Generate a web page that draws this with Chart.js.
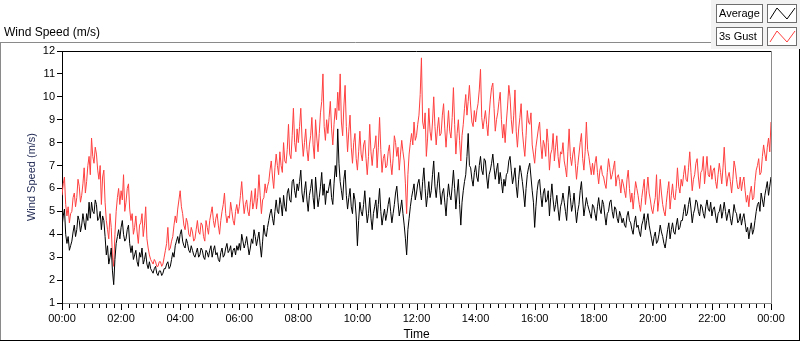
<!DOCTYPE html>
<html>
<head>
<meta charset="utf-8">
<script src="https://cdn.jsdelivr.net/npm/chart.js@4"></script>
<style>
  html, body { margin: 0; padding: 0; background: #fff; }
  #wrap { position: relative; width: 800px; height: 342px; }
</style>
</head>
<body>
<div id="wrap"><canvas id="chart" width="800" height="342"></canvas></div>
<script>
// one reading every 2.5 minutes, 00:00 .. 24:00 (24 readings per row = 1 hour)
const stepMinutes = 2.5;

const averageSpeed = [
  4.3, 4.8, 5.1, 4.0, 3.6, 3.9, 3.3, 3.5, 3.7, 4.1, 4.4, 3.9, 4.2, 4.8, 4.6, 4.1, 4.4, 4.9, 4.5, 4.2, 4.9, 4.6, 5.4, 4.7,
  5.4, 5.0, 4.9, 5.5, 5.3, 4.6, 4.7, 5.0, 4.2, 4.8, 4.6, 3.9, 3.1, 3.5, 2.7, 3.0, 3.4, 2.4, 1.8, 2.9, 3.6, 3.9, 4.2, 3.8,
  4.3, 4.6, 4.0, 3.7, 3.8, 4.2, 4.4, 3.6, 3.2, 3.5, 2.9, 3.1, 3.3, 2.8, 2.6, 3.2, 3.0, 3.4, 2.7, 2.9, 3.2, 2.7, 2.5, 2.8,
  2.5, 2.4, 2.3, 2.5, 2.6, 2.3, 2.2, 2.4, 2.4, 2.2, 2.3, 2.5, 2.5, 2.7, 2.8, 2.5, 2.6, 2.9, 3.2, 3.0, 3.5, 3.7, 3.9, 3.6,
  4.0, 4.2, 3.7, 3.5, 3.4, 3.8, 3.6, 3.3, 3.2, 3.5, 3.3, 3.1, 3.0, 3.2, 3.4, 3.0, 3.1, 3.4, 3.3, 3.0, 2.9, 3.3, 3.2, 3.0,
  3.3, 3.5, 3.0, 3.3, 3.5, 3.1, 3.2, 2.9, 2.8, 3.2, 3.4, 3.0, 3.1, 3.4, 3.6, 3.2, 3.3, 3.5, 3.0, 3.3, 3.4, 3.1, 3.5, 3.3,
  3.6, 3.3, 4.0, 3.7, 3.4, 3.6, 3.9, 3.5, 3.1, 3.4, 3.8, 3.6, 4.2, 3.9, 3.5, 3.8, 4.1, 3.5, 3.0, 3.7, 4.4, 4.0, 3.9, 4.3,
  4.6, 4.9, 5.1, 4.7, 4.4, 5.0, 5.5, 5.0, 4.9, 5.6, 5.3, 4.8, 5.7, 5.2, 5.0, 5.8, 6.0, 5.5, 5.4, 6.3, 6.4, 5.9, 5.6, 6.2,
  5.9, 6.3, 6.8, 5.8, 5.4, 5.9, 6.3, 5.5, 5.0, 5.7, 6.0, 6.4, 5.6, 5.1, 6.5, 5.8, 5.2, 5.6, 6.1, 6.7, 5.7, 6.2, 5.3, 5.9,
  5.8, 6.1, 6.4, 5.6, 5.3, 6.2, 7.0, 6.5, 8.6, 7.1, 6.3, 5.9, 5.5, 6.4, 6.8, 5.7, 5.1, 5.6, 6.0, 5.2, 4.9, 5.8, 5.5, 4.8,
  3.5, 4.6, 5.4, 5.0, 4.8, 5.3, 5.9, 5.1, 4.5, 4.9, 5.6, 4.7, 4.2, 4.9, 5.2, 5.5, 4.7, 5.3, 6.0, 5.0, 4.4, 4.8, 5.1, 4.6,
  4.9, 5.3, 5.6, 5.0, 4.5, 4.9, 5.3, 5.8, 6.1, 5.4, 4.8, 5.1, 5.5, 4.9, 4.4, 3.8, 3.1, 4.2, 4.7, 5.2, 5.6, 5.9, 6.2, 5.5,
  5.8, 6.2, 6.4, 5.9, 5.5, 6.3, 6.9, 6.0, 5.2, 5.7, 6.3, 5.6, 5.9, 6.6, 7.2, 6.1, 5.6, 6.2, 6.7, 5.9, 5.3, 5.8, 6.0, 5.4,
  4.8, 5.6, 6.2, 5.7, 5.5, 6.1, 6.8, 6.0, 5.1, 5.8, 6.4, 5.3, 4.4, 5.4, 5.9, 6.3, 6.6, 7.4, 8.4, 7.0, 6.9, 6.4, 6.1, 6.7,
  7.0, 6.5, 6.3, 7.0, 7.4, 6.8, 6.6, 7.3, 7.2, 6.5, 6.0, 6.6, 6.8, 7.1, 7.5, 6.9, 6.4, 6.8, 7.1, 6.2, 6.7, 6.3, 5.8, 6.4,
  6.1, 6.6, 6.7, 7.2, 7.4, 6.8, 6.2, 6.5, 6.9, 6.1, 5.6, 6.4, 7.0, 6.7, 6.3, 5.8, 5.2, 6.0, 6.6, 6.9, 7.1, 6.5, 5.9, 5.4,
  4.3, 5.2, 5.9, 6.3, 6.4, 5.7, 5.2, 5.8, 6.0, 5.4, 5.5, 5.9, 4.8, 5.6, 6.2, 5.5, 5.0, 5.3, 5.7, 5.1, 4.6, 5.2, 5.4, 5.8,
  5.4, 5.0, 4.6, 5.5, 6.1, 5.6, 5.0, 5.3, 5.8, 5.1, 4.5, 5.0, 5.3, 5.9, 6.3, 5.5, 4.8, 5.2, 5.6, 5.3, 5.1, 4.9, 4.7, 5.3,
  5.2, 4.9, 4.6, 5.2, 5.6, 5.1, 4.9, 5.5, 5.3, 4.8, 4.4, 4.9, 5.0, 5.4, 5.5, 5.0, 4.7, 5.2, 5.1, 4.7, 4.5, 5.0, 4.8, 4.5,
  4.7, 4.4, 4.3, 4.8, 5.0, 4.6, 4.5, 4.2, 4.0, 4.5, 4.8, 4.3, 4.4, 4.1, 3.9, 4.4, 4.6, 4.9, 4.2, 4.6, 4.9, 4.4, 4.1, 3.8,
  3.5, 3.9, 4.1, 3.6, 3.7, 4.0, 4.4, 4.1, 3.9, 3.6, 3.4, 3.8, 4.2, 4.5, 3.8, 4.2, 4.5, 4.1, 4.0, 4.4, 4.7, 4.2, 4.3, 4.6,
  4.6, 5.0, 5.3, 4.8, 4.9, 5.3, 5.6, 5.1, 4.5, 4.9, 5.1, 5.5, 5.4, 5.0, 4.8, 5.3, 5.2, 4.9, 4.7, 5.2, 5.5, 5.1, 5.0, 5.4,
  4.8, 5.1, 5.2, 4.8, 4.5, 4.9, 5.0, 5.3, 4.7, 5.0, 5.4, 5.0, 4.6, 4.9, 5.1, 4.7, 4.4, 4.8, 5.3, 5.0, 4.9, 4.5, 4.6, 4.9,
  4.4, 4.7, 4.9, 4.5, 4.1, 4.3, 3.8, 4.2, 4.5, 4.0, 4.2, 4.6, 5.0, 5.3, 5.4, 5.0, 5.8, 5.5, 5.2, 5.7, 6.0, 6.3, 5.7, 6.1,
  6.5
];

const gustSpeed = [
  5.7, 6.2, 6.5, 5.3, 4.8, 5.2, 4.5, 4.9, 5.0, 5.6, 5.8, 5.2, 5.6, 6.4, 6.1, 5.4, 5.7, 6.2, 6.9, 5.8, 6.3, 7.0, 7.4, 6.6,
  8.2, 7.4, 7.1, 7.8, 7.5, 6.8, 6.4, 7.0, 5.3, 6.5, 6.8, 5.4, 4.6, 4.2, 3.8, 4.9, 4.3, 3.0, 2.6, 4.0, 5.0, 5.6, 6.0, 5.3,
  5.9, 5.5, 6.6, 5.0, 5.4, 6.0, 6.2, 5.1, 4.6, 4.9, 4.0, 4.3, 4.8, 4.1, 3.6, 4.4, 4.5, 4.9, 3.9, 4.4, 5.2, 3.8, 3.4, 3.1,
  2.9, 2.8, 2.7, 2.9, 2.8, 2.6, 2.6, 2.8, 2.8, 2.6, 2.7, 3.0, 3.3, 3.6, 4.3, 3.3, 3.4, 3.7, 3.9, 4.4, 4.8, 4.5, 5.1, 5.5,
  5.9, 5.2, 4.9, 4.4, 4.2, 4.7, 4.5, 4.0, 3.9, 4.3, 4.1, 3.7, 3.8, 4.2, 4.6, 4.1, 4.0, 4.5, 4.4, 3.9, 3.7, 4.6, 4.3, 4.0,
  4.6, 4.9, 5.2, 4.6, 4.3, 4.7, 4.9, 4.4, 4.0, 4.6, 5.0, 5.3, 5.8, 4.9, 4.5, 4.8, 4.7, 5.4, 5.0, 4.6, 4.4, 5.0, 5.3, 4.9,
  5.2, 5.7, 6.3, 5.5, 4.9, 5.3, 5.5, 5.0, 4.8, 5.4, 5.9, 5.1, 5.4, 6.0, 5.1, 5.6, 6.6, 5.7, 4.9, 5.5, 5.6, 6.2, 5.8, 6.1,
  6.3, 6.8, 7.2, 6.5, 6.0, 6.9, 7.5, 7.0, 6.6, 7.6, 7.0, 6.7, 8.0, 7.2, 7.1, 7.7, 8.8, 7.5, 7.3, 8.3, 9.5, 8.0, 7.6, 8.6,
  8.0, 8.7, 9.5, 8.2, 7.4, 8.0, 8.6, 7.7, 7.2, 7.9, 8.3, 9.1, 7.9, 7.3, 9.0, 8.2, 7.6, 8.4, 9.3, 9.8, 11.0, 8.7, 8.1, 9.0,
  8.4, 9.1, 9.8, 8.6, 7.9, 8.8, 9.5, 9.0, 10.2, 9.4, 11.0, 8.9, 8.3, 9.6, 10.5, 8.7, 7.6, 8.5, 9.2, 7.8, 7.1, 8.0, 8.4, 7.3,
  6.8, 7.6, 8.5, 7.5, 7.2, 7.9, 8.1, 7.3, 6.6, 7.4, 8.8, 7.6, 7.0, 7.7, 7.8, 8.3, 6.9, 7.8, 9.1, 7.7, 6.7, 7.3, 7.5, 6.9,
  7.0, 7.6, 7.9, 7.1, 6.6, 7.3, 8.3, 8.0, 7.4, 7.8, 6.8, 7.5, 8.1, 7.6, 7.2, 6.2, 4.9, 6.6, 7.5, 8.0, 8.4, 7.9, 8.9, 8.1,
  8.3, 8.8, 9.2, 10.1, 11.7, 8.9, 8.6, 9.3, 7.4, 8.2, 9.5, 8.5, 8.1, 8.9, 10.0, 8.7, 7.9, 8.6, 9.1, 8.3, 8.4, 9.2, 9.7, 8.6,
  7.8, 8.6, 9.4, 8.5, 8.2, 9.1, 10.4, 8.8, 7.5, 8.4, 9.0, 8.1, 7.2, 8.3, 8.8, 9.5, 10.1, 9.2, 9.8, 10.5, 9.6, 8.9, 8.7, 9.4,
  8.9, 9.4, 9.7, 10.3, 11.2, 9.1, 8.6, 9.0, 9.4, 8.8, 8.3, 9.2, 9.9, 10.4, 10.6, 9.5, 8.5, 9.0, 9.3, 9.8, 10.2, 9.0, 8.2, 8.8,
  8.0, 8.9, 9.6, 10.5, 10.0, 9.0, 8.4, 9.2, 10.3, 8.5, 7.8, 8.6, 9.1, 9.7, 8.5, 7.9, 7.4, 8.3, 9.4, 8.9, 8.8, 9.3, 7.9, 7.5,
  7.1, 7.8, 8.2, 8.6, 8.9, 7.9, 7.3, 8.1, 7.9, 7.4, 8.6, 8.0, 6.8, 7.5, 7.7, 8.4, 7.2, 7.8, 8.3, 7.4, 6.9, 7.6, 7.5, 8.0,
  7.2, 6.9, 6.5, 7.6, 8.6, 7.4, 7.0, 7.5, 7.8, 7.1, 6.4, 7.0, 7.5, 8.0, 8.4, 7.3, 6.8, 7.6, 8.9, 7.7, 7.4, 7.0, 6.6, 7.1,
  6.6, 7.1, 7.4, 6.7, 6.2, 6.8, 7.0, 6.6, 6.5, 6.2, 6.0, 6.7, 7.3, 6.9, 6.4, 6.6, 6.9, 7.2, 6.1, 6.5, 6.6, 6.3, 5.8, 6.4,
  6.2, 5.9, 5.6, 6.4, 6.8, 6.0, 5.4, 5.8, 5.1, 5.7, 6.3, 6.0, 5.7, 5.3, 5.0, 5.6, 6.0, 6.4, 5.3, 5.9, 6.5, 5.8, 5.5, 5.1,
  4.9, 5.3, 5.6, 6.6, 5.0, 5.5, 6.4, 5.8, 5.3, 5.0, 4.8, 5.4, 5.9, 6.3, 5.1, 5.7, 6.2, 5.6, 5.5, 6.0, 6.9, 6.1, 5.8, 6.4,
  6.1, 6.6, 7.0, 6.4, 6.3, 6.9, 7.6, 6.7, 5.9, 6.4, 6.6, 7.1, 7.3, 6.5, 6.0, 6.7, 6.8, 7.4, 6.2, 6.8, 7.4, 6.6, 6.5, 7.0,
  6.4, 6.8, 6.9, 6.3, 6.0, 6.6, 7.1, 6.7, 6.2, 6.9, 7.8, 6.8, 6.1, 6.5, 6.7, 6.3, 5.8, 6.4, 7.2, 6.9, 6.4, 6.0, 6.0, 6.5,
  5.9, 6.3, 6.5, 5.9, 5.4, 5.7, 5.2, 5.8, 6.1, 5.5, 5.6, 6.3, 6.8, 7.0, 7.3, 6.6, 6.7, 7.4, 7.9, 7.5, 7.2, 7.8, 8.2, 7.6,
  8.9
];

const timeLabels = ['00:00', '02:00', '04:00', '06:00', '08:00', '10:00', '12:00',
                    '14:00', '16:00', '18:00', '20:00', '22:00', '00:00'];
const seriesNames = ['Average', '3s Gust'];
const seriesColors = ['#000000', '#ff4040'];

const toPoints = values => values.map((v, i) => ({ x: i * stepMinutes, y: v }));

// frame, title and the little LabVIEW style legend
const panelPlugin = {
  id: 'panel',
  beforeDraw(chart) {
    const ctx = chart.ctx;
    ctx.save();
    ctx.fillStyle = '#fff';
    ctx.fillRect(0, 0, 800, 342);
    ctx.fillStyle = '#f2f2f2';
    ctx.fillRect(711, 0, 89, 49);

    ctx.strokeStyle = '#8a8a8a';
    ctx.lineWidth = 1;
    ctx.beginPath();
    ctx.moveTo(0, 42.5); ctx.lineTo(711, 42.5);
    ctx.moveTo(0.5, 42); ctx.lineTo(0.5, 341);
    ctx.stroke();
    ctx.strokeStyle = '#000';
    ctx.beginPath();
    ctx.moveTo(0, 340.5); ctx.lineTo(800, 340.5);
    ctx.moveTo(799.5, 49); ctx.lineTo(799.5, 341);
    ctx.stroke();

    ctx.fillStyle = '#000';
    ctx.font = '12px "Liberation Sans", Arial, sans-serif';
    ctx.textBaseline = 'alphabetic';
    ctx.textAlign = 'left';
    ctx.fillText('Wind Speed (m/s)', 4, 36);
    ctx.restore();
  },
  afterDraw(chart) {
    const ctx = chart.ctx;
    const area = chart.chartArea;
    const xs = chart.scales.x;
    ctx.save();
    ctx.lineWidth = 1;
    ctx.strokeStyle = '#000';
    ctx.beginPath();
    ctx.moveTo(area.left - 1, 51.5); ctx.lineTo(area.right + 1, 51.5);
    ctx.stroke();
    ctx.strokeStyle = '#8a8a8a';
    ctx.beginPath();
    ctx.moveTo(Math.round(area.right) + 0.5, 51); ctx.lineTo(Math.round(area.right) + 0.5, area.bottom + 1);
    ctx.stroke();

    // x tick marks, longer every 2 hours
    ctx.strokeStyle = '#000';
    ctx.beginPath();
    xs.ticks.forEach(t => {
      const px = Math.round(xs.getPixelForValue(t.value)) + 0.5;
      const len = t.value % 120 === 0 ? 6 : 4;
      ctx.moveTo(px, area.bottom + 1);
      ctx.lineTo(px, area.bottom + 1 + len);
    });
    ctx.stroke();

    // legend
    ctx.font = '11px "Liberation Sans", Arial, sans-serif';
    ctx.textBaseline = 'middle';
    seriesNames.forEach((name, i) => {
      const y = 4 + i * 23;
      ctx.fillStyle = '#fff';
      ctx.fillRect(716, y, 46, 18);
      ctx.fillRect(767, y, 29, 18);
      ctx.strokeStyle = '#6e6e6e';
      ctx.strokeRect(716.5, y + 0.5, 46, 18);
      ctx.strokeRect(767.5, y + 0.5, 29, 18);
      ctx.fillStyle = '#000';
      ctx.fillText(name, 719, y + 10);
      ctx.strokeStyle = seriesColors[i];
      ctx.beginPath();
      ctx.moveTo(770, y + 15);
      ctx.lineTo(777, y + 4);
      ctx.lineTo(787, y + 15);
      ctx.lineTo(795, y + 4);
      ctx.stroke();
    });
    ctx.restore();
  }
};

new Chart(document.getElementById('chart'), {
  type: 'line',
  data: {
    datasets: [
      {
        label: seriesNames[0],
        data: toPoints(averageSpeed),
        borderColor: seriesColors[0],
        borderWidth: 1,
        pointRadius: 0,
        tension: 0
      },
      {
        label: seriesNames[1],
        data: toPoints(gustSpeed),
        borderColor: seriesColors[1],
        borderWidth: 1,
        pointRadius: 0,
        tension: 0
      }
    ]
  },
  options: {
    responsive: false,
    animation: false,
    devicePixelRatio: 1,
    layout: { padding: { top: 51, right: 29, left: 0, bottom: 0 } },
    plugins: {
      legend: { display: false },
      tooltip: { enabled: false }
    },
    scales: {
      x: {
        type: 'linear',
        min: 0,
        max: 1440,
        afterBuildTicks: scale => {
          const ticks = [];
          for (let m = 0; m <= 1440; m += 15) ticks.push({ value: m });
          scale.ticks = ticks;
        },
        afterFit: scale => { scale.height = 39; },
        ticks: {
          autoSkip: false,
          maxRotation: 0,
          padding: 3,
          color: '#000',
          font: { family: '"Liberation Sans", Arial, sans-serif', size: 11 },
          callback: value => (value % 120 === 0 ? timeLabels[value / 120] : '')
        },
        grid: { drawOnChartArea: false, tickLength: 6, tickColor: 'rgba(0,0,0,0)' },
        border: { color: '#8a8a8a' },
        title: {
          display: true,
          text: 'Time',
          color: '#000',
          font: { family: '"Liberation Sans", Arial, sans-serif', size: 12 },
          padding: { top: 0, bottom: 0 }
        }
      },
      y: {
        min: 1,
        max: 12,
        afterFit: scale => { scale.width = 62; },
        ticks: {
          stepSize: 1,
          padding: 2,
          color: '#000',
          font: { family: '"Liberation Sans", Arial, sans-serif', size: 11 }
        },
        grid: { drawOnChartArea: false, tickLength: 5, tickColor: '#000' },
        border: { color: '#000' },
        title: {
          display: true,
          text: 'Wind Speed (m/s)',
          color: '#1c2550',
          font: { family: '"Liberation Sans", Arial, sans-serif', size: 11 },
          padding: { top: 25, bottom: 0 }
        }
      }
    }
  },
  plugins: [panelPlugin]
});
</script>
</body>
</html>
